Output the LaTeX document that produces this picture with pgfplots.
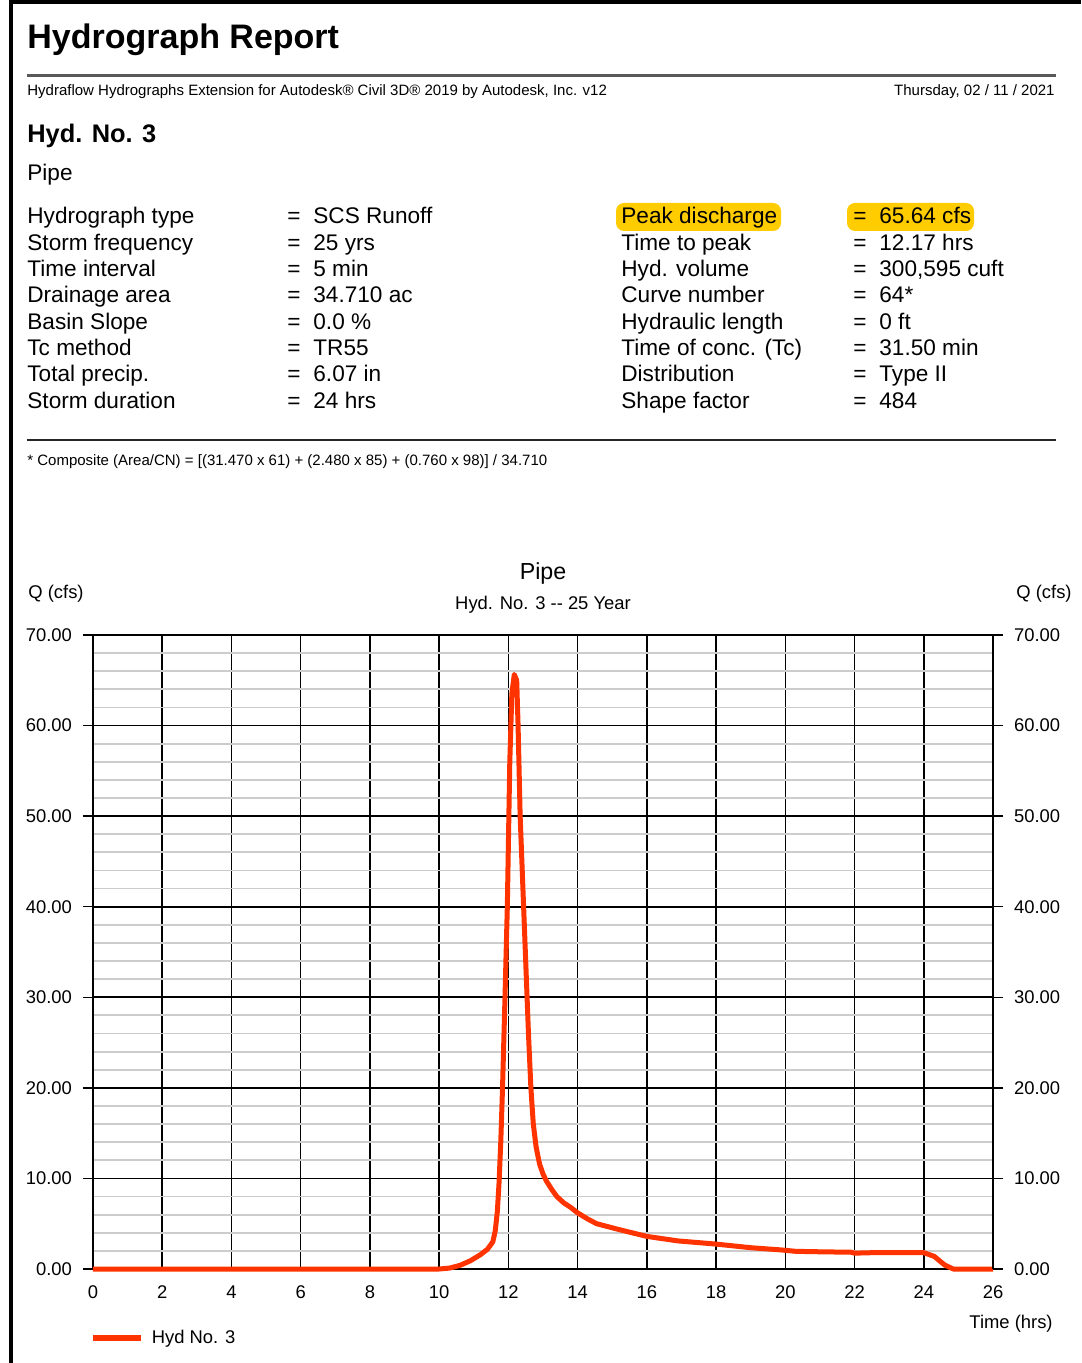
\documentclass[border=0pt]{standalone}
\usepackage{pgfplots}
\pgfplotsset{compat=1.18}
\usepackage{fontspec}
\setmainfont{Liberation Sans}
\definecolor{hyd}{HTML}{FF3300}
\definecolor{hl}{HTML}{FFCC00}
\newcommand{\fs}[1]{\fontsize{#1}{#1}\selectfont}

\begin{document}
\begin{tikzpicture}
\path[use as bounding box] (-46.5pt,-47pt) rectangle (494pt,634.5pt);
\begin{scope}[x=0.5pt, y=-0.5pt, shift={(-93,-1269)}]
\fill[white] (0,0) rectangle (1081,1363);
\draw[line width=2pt] (11,0) -- (11,1363);
\draw[line width=2pt] (10,2) -- (1081,2);

% header
\node[anchor=base west, inner sep=0, font=\fs{17}\bfseries] at (27,49) {Hydrograph Report};
\draw[line width=1.5pt, black!65] (27,76) -- (1056,76);
\node[anchor=base west, inner sep=0, font=\fs{7.5}] at (27,96) {Hydraflow Hydrographs Extension for Autodesk® Civil 3D® 2019 by Autodesk, Inc. v12};
\node[anchor=base east, inner sep=0, font=\fs{7.5}] at (1055,96) {Thursday, 02 / 11 / 2021};
\node[anchor=base west, inner sep=0, font=\fs{12.7}\bfseries] at (27,143) {Hyd. No. 3};
\node[anchor=base west, inner sep=0, font=\fs{11.3}] at (27,181) {Pipe};

% highlights
\fill[hl, rounded corners=4pt] (616,203) rectangle (781,231);
\fill[hl, rounded corners=4pt] (847,203) rectangle (974,231);

\begin{scope}[every node/.style={anchor=base west, inner sep=0, font=\fs{11.3}}]
\node at (27,224.0) {Hydrograph type};
\node at (27,250.3) {Storm frequency};
\node at (27,276.6) {Time interval};
\node at (27,302.9) {Drainage area};
\node at (27,329.2) {Basin Slope};
\node at (27,355.5) {Tc method};
\node at (27,381.8) {Total precip.};
\node at (27,408.1) {Storm duration};
\foreach \yy in {224.0,250.3,276.6,302.9,329.2,355.5,381.8,408.1} {\node at (287,\yy) {=}; \node at (853,\yy) {=};}
\node at (313,224.0) {SCS Runoff};
\node at (313,250.3) {25 yrs};
\node at (313,276.6) {5 min};
\node at (313,302.9) {34.710 ac};
\node at (313,329.2) {0.0 \%};
\node at (313,355.5) {TR55};
\node at (313,381.8) {6.07 in};
\node at (313,408.1) {24 hrs};
\node at (621,224.0) {Peak discharge};
\node at (621,250.3) {Time to peak};
\node at (621,276.6) {Hyd. volume};
\node at (621,302.9) {Curve number};
\node at (621,329.2) {Hydraulic length};
\node at (621,355.5) {Time of conc. (Tc)};
\node at (621,381.8) {Distribution};
\node at (621,408.1) {Shape factor};
\node at (879,224.0) {65.64 cfs};
\node at (879,250.3) {12.17 hrs};
\node at (879,276.6) {300,595 cuft};
\node at (879,302.9) {64*};
\node at (879,329.2) {0 ft};
\node at (879,355.5) {31.50 min};
\node at (879,381.8) {Type II};
\node at (879,408.1) {484};
\end{scope}
\draw[line width=1pt, black!85] (27,440) -- (1056,440);
\node[anchor=base west, inner sep=0, font=\fs{7.5}] at (27,466) {* Composite (Area/CN) = [(31.470 x 61) + (2.480 x 85) + (0.760 x 98)] / 34.710};

% chart titles
\node[anchor=base, inner sep=0, font=\fs{11.6}] at (543,580) {Pipe};
\node[anchor=base, inner sep=0, font=\fs{9.2}] at (543,610) {Hyd. No. 3 -{}- 25 Year};
\node[anchor=base west, inner sep=0, font=\fs{9.2}] at (28,599) {Q (cfs)};
\node[anchor=base east, inner sep=0, font=\fs{9.2}] at (1072,599) {Q (cfs)};
\node[anchor=base east, inner sep=0, font=\fs{9.2}] at (1053,1328) {Time (hrs)};
\end{scope}

\begin{axis}[
  at={(0pt,0pt)}, anchor=origin,
  width=450pt, height=317pt, scale only axis,
  xmin=0, xmax=26, ymin=0, ymax=70,
  xtick={0,2,...,26}, ytick={0,10,...,70},
  minor y tick num=4,
  xmajorgrids, ymajorgrids, yminorgrids,
  major grid style={black, line width=0.8pt},
  minor grid style={black!20, line width=0.9pt},
  axis line style={black, line width=0.8pt},
  tick align=outside,
  major tick length=5pt, minor tick length=0pt,
  xtick style={draw=none},
  ytick style={black, line width=0.75pt},
  ytick pos=left,
  /pgf/number format/assume math mode=true,
  yticklabel style={font=\fs{9.2}, xshift=-2pt, /pgf/number format/fixed, /pgf/number format/fixed zerofill, /pgf/number format/precision=2},
  xticklabel style={font=\fs{9.2}},
  clip=false,
  legend style={at={(axis description cs:-0.004,-0.109)}, anchor=west, draw=none, fill=none, font=\fs{9.2}, inner sep=0pt},
  legend image code/.code={\draw[#1, line width=3pt] (0pt,0pt) -- (24pt,0pt);},
  legend cell align=left,
  legend style={nodes={inner xsep=4pt}},
]
\addplot[hyd, line width=2.5pt, line join=round] coordinates {
(0,0) (10.0,0) (10.3,0.1) (10.6,0.4) (10.9,0.9) (11.2,1.6) (11.4,2.2) (11.55,3.0) (11.62,4.2) (11.68,6.3) (11.73,9.5) (11.78,14) (11.83,19.9) (11.9,29.7) (11.97,40.1) (12.04,55.9) (12.1,63.5) (12.17,65.64) (12.24,65.0) (12.28,60) (12.34,50) (12.42,42) (12.5,34) (12.58,26) (12.65,20) (12.72,16) (12.8,13.5) (12.9,11.6) (13.0,10.5) (13.1,9.7) (13.25,8.8) (13.4,8.0) (13.6,7.3) (13.8,6.8) (14.0,6.2) (14.3,5.5) (14.55,5.0) (15.2,4.35) (16.0,3.6) (16.9,3.1) (18.0,2.75) (19.0,2.35) (19.9,2.1) (20.3,1.95) (21.0,1.9) (21.9,1.85) (22.0,1.75) (22.5,1.8) (24.0,1.8) (24.3,1.4) (24.6,0.45) (24.85,0) (26.0,0)
};
\addlegendentry{Hyd No. 3}
\end{axis}
\begin{axis}[
  at={(0pt,0pt)}, anchor=origin,
  width=450pt, height=317pt, scale only axis,
  xmin=0, xmax=26, ymin=0, ymax=70,
  ytick={0,10,...,70},
  axis x line=none, axis y line*=right,
  axis line style={black, line width=0.8pt},
  tick align=outside, major tick length=5pt,
  ytick style={black, line width=0.75pt},
  /pgf/number format/assume math mode=true,
  yticklabel style={font=\fs{9.2}, xshift=2pt, /pgf/number format/fixed, /pgf/number format/fixed zerofill, /pgf/number format/precision=2},
]
\end{axis}
\end{tikzpicture}
\end{document}
